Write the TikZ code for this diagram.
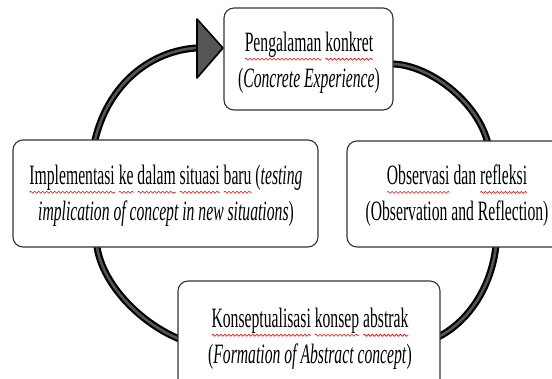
\documentclass[tikz,border=0pt]{standalone}
\usepackage{fontspec}
\setmainfont{Liberation Serif}[FakeStretch=0.56]
\usetikzlibrary{decorations.pathmorphing}
\definecolor{boxgray}{HTML}{333333}
\definecolor{arcgray}{HTML}{555555}
\newlength\rwlen
\newcommand\rwave[1]{\settowidth\rwlen{#1}\leavevmode\rlap{\tikz[overlay,baseline=0pt,x=1pt,y=1pt]\draw[red, line width=0.6pt, decorate, decoration={snake, amplitude=1pt, segment length=4pt}] (0pt,-7.5pt) -- (\rwlen,-7.5pt);}#1}
\begin{document}
\begin{tikzpicture}[x=1pt,y=-1pt,
  box/.style={draw=boxgray, line width=1.1pt, fill=white, rounded corners=10pt, inner sep=0pt},
  txt/.style={inner sep=0pt, align=center, font=\fontsize{28}{36}\selectfont},
  cyc/.style={draw=black, line width=2.2pt, double=arcgray, double distance=2.6pt, line join=round},
  head/.style={draw=black, line width=1.6pt, fill=arcgray, line join=round}]
\useasboundingbox (0,0) rectangle (552,378);
\clip (0,0) rectangle (552,378);
% arc: left box -> top box (with arrow head)
\coordinate (A0) at (92,152);
\coordinate (A1) at (95,140);
\coordinate (A2) at (108,85);
\coordinate (A3) at (150,50);
\coordinate (A4) at (199,47.8);
\draw[cyc] (A0) -- (A1) .. controls (A2) and (A3) .. (A4);
\coordinate (H1) at (197,19);
\coordinate (H2) at (223,48);
\coordinate (H3) at (197,78);
\filldraw[head] (H1) -- (H2) -- (H3) -- cycle;
% arc: top box -> right box
\coordinate (B0) at (382,63.5);
\coordinate (B1) at (394,64);
\coordinate (B2) at (430,66);
\coordinate (B3) at (475,100);
\coordinate (B4) at (487,140);
\coordinate (B5) at (490.6,152);
\draw[cyc] (B0) -- (B1) .. controls (B2) and (B3) .. (B4) -- (B5);
% arc: right box -> bottom box
\coordinate (C0) at (497,235);
\coordinate (C1) at (496,245);
\coordinate (C2) at (492,285);
\coordinate (C3) at (470,320);
\coordinate (C4) at (440,336);
\coordinate (C5) at (430,341.3);
\draw[cyc] (C0) -- (C1) .. controls (C2) and (C3) .. (C4) -- (C5);
% arc: bottom box -> left box
\coordinate (D0) at (186.5,342);
\coordinate (D1) at (177,338);
\coordinate (D2) at (140,322);
\coordinate (D3) at (103,285);
\coordinate (D4) at (97,247);
\coordinate (D5) at (95.4,237);
\draw[cyc] (D0) -- (D1) .. controls (D2) and (D3) .. (D4) -- (D5);
% boxes
\node[box, minimum width=169pt, minimum height=102pt] (top) at (308.5,59) {};
\node[box, minimum width=305pt, minimum height=107pt] (left) at (165.5,193.5) {};
\node[box, minimum width=219pt, minimum height=106pt] (right) at (456.5,194) {};
\node[box, minimum width=262pt, minimum height=114pt] (bottom) at (309,338) {};
% texts
\node[txt] (topt) at (309,63)
  {\rwave{Pengalaman} \rwave{konkret}\\(\textit{Concrete Experience})};
\node[txt] (leftt) at (166,196)
  {\rwave{Implementasi} \rwave{ke} \rwave{dalam} \rwave{situasi} \rwave{baru} (\textit{testing}\\\textit{implication of concept in new situations})};
\node[txt] (rightt) at (457,196)
  {\rwave{Observasi} dan \rwave{refleksi}\\(Observation and Reflection)};
\node[txt] (bottomt) at (310,339)
  {\rwave{Konseptualisasi} \rwave{konsep} \rwave{abstrak}\\(\textit{Formation of Abstract concept})};
\end{tikzpicture}
\end{document}
